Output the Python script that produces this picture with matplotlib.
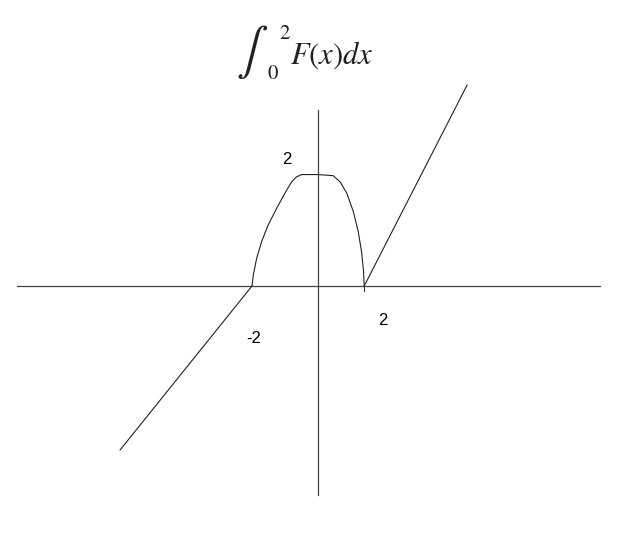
import matplotlib
matplotlib.use("Agg")
import matplotlib.pyplot as plt

# Sketch data (math units)
left_line_x = [-6.0, -2.0]
left_line_y = [-2.93, 0.0]
curve_x = [-2.0, -1.96, -1.86, -1.71, -1.51, -1.25, -1.00, -0.80, -0.65, -0.49, 0.0, 0.46, 0.67, 0.87, 1.07, 1.22, 1.32, 1.38, 1.40]
curve_y = [0.0, 0.20, 0.49, 0.79, 1.09, 1.39, 1.66, 1.86, 1.95, 1.99, 1.99, 1.97, 1.86, 1.66, 1.33, 0.97, 0.61, 0.26, 0.0]
right_line_x = [1.40, 4.52]
right_line_y = [0.0, 3.59]
xaxis_x = [-9.12, 8.55]
yaxis_y = [-3.73, 3.14]
labels = ["2", "2", "-2"]
label_x = [-0.94, 1.97, -1.94]
label_y = [2.25, -0.61, -0.93]

plt.rcParams['mathtext.fontset'] = 'stix'
fig = plt.figure(figsize=(6.39, 5.42), dpi=100)
ax = fig.add_axes([0, 0, 1, 1])
ax.set_xlim(-318 / 33, (639 - 318) / 33)
ax.set_ylim(-(542 - 286) / 56, 286 / 56)
ax.axis('off')

axis_col = '#444444'
ax.plot(xaxis_x, [0, 0], color=axis_col, lw=0.9)
ax.plot([0, 0], yaxis_y, color=axis_col, lw=0.9)
ax.plot([1.40, 1.40], [0, -0.09], color=axis_col, lw=0.9)

kw = dict(color='#222222', lw=0.8, solid_joinstyle='round', solid_capstyle='round')
ax.plot(left_line_x, left_line_y, **kw)
ax.plot(curve_x, curve_y, **kw)
ax.plot(right_line_x, right_line_y, **kw)

for t, x, y in zip(labels, label_x, label_y):
    ax.text(x, y, t, fontsize=12, family='Liberation Sans', ha='center', va='center')

W, H = 639, 542
tc = '#222222'
fig.text(252 / W, 1 - 52 / H, r'$\int$', fontsize=34, ha='center', va='center', color=tc)
fig.text(285 / W, 1 - 33 / H, r'$\mathrm{2}$', fontsize=15, ha='center', va='center', color=tc)
fig.text(273 / W, 1 - 73 / H, r'$\mathrm{0}$', fontsize=15, ha='center', va='center', color=tc)
fig.text(290 / W, 1 - 55 / H, r'$F(x)dx$', fontsize=22, ha='left', va='center', color=tc)

fig.savefig('out.png', dpi=100, facecolor='white')
